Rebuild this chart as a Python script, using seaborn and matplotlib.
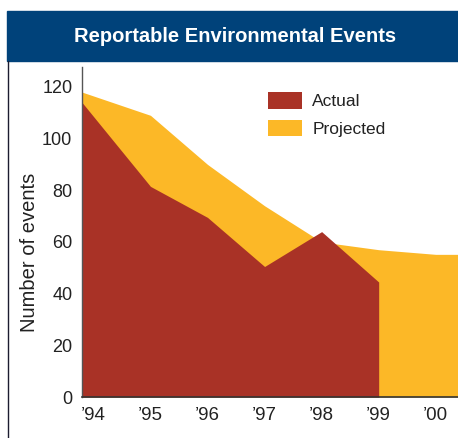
import matplotlib
matplotlib.use("Agg")
import matplotlib.pyplot as plt
import seaborn as sns
from matplotlib.patches import Rectangle
from matplotlib.lines import Line2D

# Reportable environmental events per year
years = [1994, 1995, 1996, 1997, 1998, 1999, 2000]
year_labels = ["\u201994", "\u201995", "\u201996", "\u201997", "\u201998", "\u201999", "\u201900"]
actual_years = [1994, 1995, 1996, 1997, 1998, 1999]
actual = [114, 81.5, 69.5, 50.5, 64, 44.5]
projected = [118, 109, 90, 74, 60, 57, 55.2]
y_ticks = [0, 20, 40, 60, 80, 100, 120]

RED = "#A93226"
YELLOW = "#FCB827"
NAVY = "#00427A"
TEXT = "#222222"

sns.set_style("white")
plt.rcParams["font.family"] = ["Liberation Sans", "DejaVu Sans"]

W, H = 458, 438
fig = plt.figure(figsize=(W / 100, H / 100), dpi=100)
ax = fig.add_axes([82 / W, 1 - 397 / H, 1 - 82 / W, (397 - 67) / H])

x_left, x_right = 1993.8, 2000.39
ax.set_xlim(x_left, x_right)
ax.set_ylim(0, 127.7)

# the first year's value sits on the axis edge; the projection runs on to the right edge
px = [x_left] + years[1:] + [x_right]
py = projected + [projected[-1]]
axx = [x_left] + actual_years[1:]

ax.fill_between(px, 0, py, color=YELLOW, linewidth=0, label="Projected", zorder=1)
ax.fill_between(axx, 0, actual, color=RED, linewidth=0, label="Actual", zorder=2)

ax.set_xticks(years)
ax.set_xticklabels(year_labels)
ax.set_yticks(y_ticks)
ax.tick_params(axis="both", length=0, colors=TEXT)
ax.tick_params(axis="x", pad=7, labelsize=13.5)
ax.tick_params(axis="y", pad=7, labelsize=13)

sns.despine(ax=ax, top=True, right=True)
ax.spines["left"].set_color("#555555")
ax.spines["left"].set_linewidth(1.0)
ax.spines["bottom"].set_color("#333333")
ax.spines["bottom"].set_linewidth(1.2)
ax.spines["left"].set_zorder(3)
ax.spines["bottom"].set_zorder(3)

handles, labels = ax.get_legend_handles_labels()
order = [labels.index("Actual"), labels.index("Projected")]
ax.legend([handles[i] for i in order], [labels[i] for i in order],
          loc="upper left", bbox_to_anchor=(0.4947, 0.924), frameon=False,
          fontsize=12.5, handlelength=1.95, handleheight=1.1, handletextpad=0.6,
          labelspacing=0.6, borderpad=0, borderaxespad=0, labelcolor=TEXT)

fig.text(30 / W, 1 - 252 / H, "Number of events", rotation=90, ha="center",
         va="center", fontsize=14.5, color=TEXT)

# title band and left frame rule
fig.patches.append(Rectangle((7 / W, 1 - 61 / H), (W - 7) / W, 50 / H,
                             transform=fig.transFigure, color=NAVY, zorder=0))
fig.text(235 / W, 1 - 36 / H, "Reportable Environmental Events", ha="center",
         va="center", fontsize=14.5, fontweight="bold", color="white")
fig.lines.append(Line2D([8 / W, 8 / W], [0, 1 - 61 / H], transform=fig.transFigure,
                        color="#1c1c30", linewidth=1.0))

fig.savefig("out.png", dpi=100)
